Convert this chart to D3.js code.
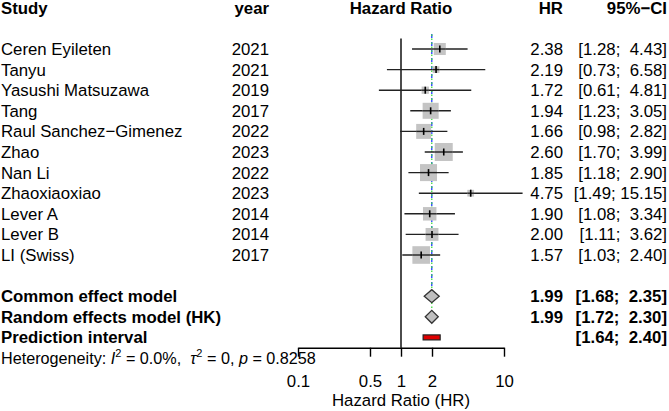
<!DOCTYPE html>
<html>
<head>
<meta charset="utf-8">
<script src="https://cdn.jsdelivr.net/npm/d3@7"></script>
<style>
  html, body { margin: 0; padding: 0; background: #fff; }
  svg { display: block; font-family: "Liberation Sans", Arial, sans-serif; }
  text { white-space: pre; }
</style>
</head>
<body>
<svg id="chart" width="669" height="411"></svg>
<script>
/* ── data ─────────────────────────────────────────────── */
const studies = ["Ceren Eyileten", "Tanyu", "Yasushi Matsuzawa", "Tang", "Raul Sanchez\u2212Gimenez",
  "Zhao", "Nan Li", "Zhaoxiaoxiao", "Lever A", "Lever B", "LI (Swiss)"];
const years   = [2021, 2021, 2019, 2017, 2022, 2023, 2022, 2023, 2014, 2014, 2017];
const hr      = [2.38, 2.19, 1.72, 1.94, 1.66, 2.60, 1.85, 4.75, 1.90, 2.00, 1.57];
const lower   = [1.28, 0.73, 0.61, 1.23, 0.98, 1.70, 1.18, 1.49, 1.08, 1.11, 1.03];
const upper   = [4.43, 6.58, 4.81, 3.05, 2.82, 3.99, 2.90, 15.15, 3.34, 3.62, 2.40];
const weights = [7.1, 2.2, 2.6, 12.6, 11.0, 15.9, 14.2, 2.2, 8.9, 8.1, 15.2];

const summaryLabels = ["Common effect model", "Random effects model (HK)", "Prediction interval"];
const summaryHR     = [1.99, 1.99, null];
const summaryLower  = [1.68, 1.72, 1.64];
const summaryUpper  = [2.35, 2.30, 2.40];

const axisTicks = [0.1, 0.5, 1, 2, 10];
const axisTitle = "Hazard Ratio (HR)";

/* ── layout ───────────────────────────────────────────── */
const FS = 16.8;
const svg = d3.select("#chart");
const fmt = d3.format(".2f");

const x = d3.scaleLog().domain([0.1, 10]).range([298, 504]);
const row = d3.scaleLinear().domain([0, 1]).range([7.8, 28.4]);   // row index -> centre y
const box = d3.scaleSqrt().domain([0, d3.max(weights)]).range([0, 18]);

const colStudy = 1, colYear = 269, colHR = 563, colCI = 667;
const studyRow = i => row(i + 2);
const sumRow   = i => row(i + 14);
const axisY    = row(16.5);

// R-style padded interval: upper bound padded to 5 chars
const ciText = (lo, up) => `[${fmt(lo)}; ${fmt(up).padStart(5, " ")}]`;

function txt(xp, y, s, anchor, bold, size) {
  return svg.append("text")
    .attr("x", xp).attr("y", y + 6)
    .attr("text-anchor", anchor || "start")
    .attr("font-size", size || FS)
    .attr("font-weight", bold ? "bold" : null)
    .attr("fill", "#000")
    .text(s);
}

/* ── header ───────────────────────────────────────────── */
txt(colStudy, row(0), "Study", "start", true);
txt(colYear, row(0), "year", "end", true);
txt(x(1), row(0), "Hazard Ratio", "middle", true);
txt(colHR, row(0), "HR", "end", true);
txt(colCI, row(0), "95%\u2212CI", "end", true);

/* ── reference lines ──────────────────────────────────── */
svg.append("line")
  .attr("x1", x(1)).attr("x2", x(1))
  .attr("y1", studyRow(0) - 10.5).attr("y2", axisY)
  .attr("stroke", "#000").attr("stroke-width", 1.4);

svg.append("line")
  .attr("x1", x(summaryHR[0])).attr("x2", x(summaryHR[0]))
  .attr("y1", studyRow(0) - 15).attr("y2", sumRow(0) - 6)
  .attr("stroke", "#1f3cff").attr("stroke-width", 1.3)
  .attr("stroke-dasharray", "4,4");

svg.append("line")
  .attr("x1", x(summaryHR[1])).attr("x2", x(summaryHR[1]))
  .attr("y1", studyRow(0) - 15).attr("y2", sumRow(1) - 6)
  .attr("stroke", "#3ddc3d").attr("stroke-width", 1.3)
  .attr("stroke-dasharray", "1.5,2.5").attr("stroke-dashoffset", -4.5);

/* ── study rows ───────────────────────────────────────── */
studies.forEach((s, i) => {
  const y = studyRow(i);
  txt(colStudy, y, s);
  txt(colYear, y, years[i], "end");
  txt(colHR, y, fmt(hr[i]), "end");
  txt(colCI, y, ciText(lower[i], upper[i]), "end");

  const b = box(weights[i]);
  svg.append("line")
    .attr("x1", x(lower[i])).attr("x2", x(upper[i]))
    .attr("y1", y).attr("y2", y)
    .attr("stroke", "#222").attr("stroke-width", 1.4);
  svg.append("rect")
    .attr("x", x(hr[i]) - b / 2).attr("y", y - b / 2)
    .attr("width", b).attr("height", b)
    .attr("fill", "#c4c4c4");
  svg.append("line")
    .attr("x1", x(Math.max(lower[i], x.invert(x(hr[i]) - b / 2))))
    .attr("x2", x(Math.min(upper[i], x.invert(x(hr[i]) + b / 2))))
    .attr("y1", y).attr("y2", y)
    .attr("stroke", "#222").attr("stroke-width", 1.4);
  svg.append("line")
    .attr("x1", x(hr[i])).attr("x2", x(hr[i]))
    .attr("y1", y - 3.5).attr("y2", y + 3.5)
    .attr("stroke", "#000").attr("stroke-width", 1.6);
});

/* ── summaries ────────────────────────────────────────── */
summaryLabels.forEach((s, i) => {
  const y = sumRow(i);
  txt(colStudy, y, s, "start", true);
  if (summaryHR[i] != null) txt(colHR, y, fmt(summaryHR[i]), "end", true);
  txt(colCI, y, ciText(summaryLower[i], summaryUpper[i]), "end", true);

  if (summaryHR[i] != null) {
    const h = 6.5;
    const pts = [[x(summaryLower[i]), y], [x(summaryHR[i]), y - h],
                 [x(summaryUpper[i]), y], [x(summaryHR[i]), y + h]];
    svg.append("polygon")
      .attr("points", pts.map(p => p.join(",")).join(" "))
      .attr("fill", "#bfbfbf").attr("stroke", "#333").attr("stroke-width", 1.3);
  } else {
    svg.append("rect")
      .attr("x", x(summaryLower[i])).attr("y", y - 2.5)
      .attr("width", x(summaryUpper[i]) - x(summaryLower[i])).attr("height", 5)
      .attr("fill", "#e00000").attr("stroke", "#222").attr("stroke-width", 1.2);
  }
});

/* ── heterogeneity ────────────────────────────────────── */
const het = svg.append("text")
  .attr("x", colStudy).attr("y", row(17) + 6)
  .attr("font-size", 16.2).attr("fill", "#000");
het.append("tspan").text("Heterogeneity: ");
het.append("tspan").attr("font-style", "italic").text("I");
het.append("tspan").attr("font-size", 11).attr("dy", -7).text("2");
het.append("tspan").attr("dy", 7).text(" = 0.0%,  ");
het.append("tspan").attr("font-style", "italic").text("\u03c4");
het.append("tspan").attr("font-size", 11).attr("dy", -7).text("2");
het.append("tspan").attr("dy", 7).text(" = 0, ");
het.append("tspan").attr("font-style", "italic").text("p");
het.append("tspan").text(" = 0.8258");

/* ── axis ─────────────────────────────────────────────── */
const axis = svg.append("g")
  .attr("transform", `translate(0,${axisY})`)
  .call(d3.axisBottom(x).tickValues(axisTicks).tickFormat(d => String(d))
    .tickSize(9).tickSizeOuter(0).tickPadding(18));
axis.select(".domain").attr("stroke", "#000").attr("stroke-width", 1.4);
axis.selectAll(".tick line").attr("stroke", "#000").attr("stroke-width", 1.4);
axis.selectAll(".tick text")
  .attr("font-size", FS).attr("fill", "#000")
  .attr("font-family", "Liberation Sans, Arial, sans-serif");

txt(x(1), 400, axisTitle, "middle");
</script>
</body>
</html>
